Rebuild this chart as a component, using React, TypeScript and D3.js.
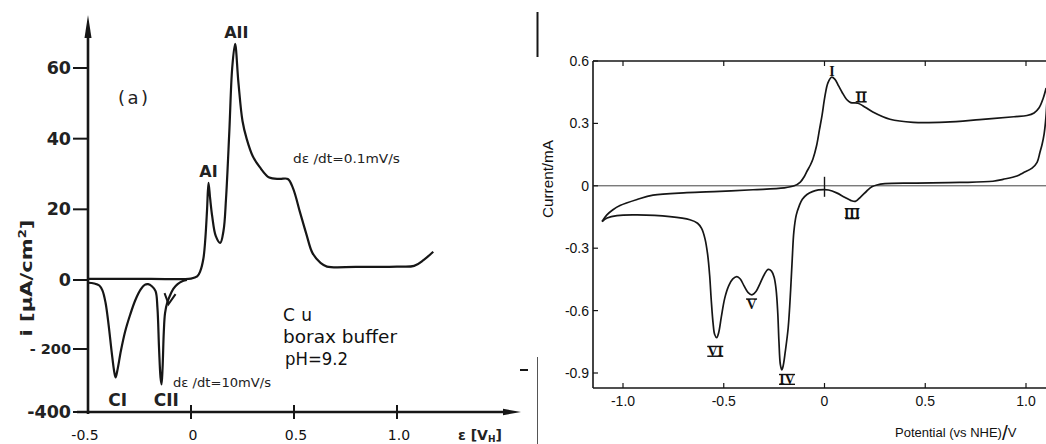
import React from "react";
import * as d3 from "d3";

// ---------- Left panel (a): Cu in borax buffer ----------
const leftYTicks = [60, 40, 20, 0, -200, -400];
const leftYTickLabels = ["60", "40", "20", "0", "- 200", "-400"];
const leftXTicks = [-0.5, 0, 0.5, 1.0];
const leftXTickLabels = ["-0.5", "0", "0.5", "1.0"];

// anodic sweep, dε/dt = 0.1 mV/s  [potential V_H, i µA/cm²]
const anodicSlow: [number, number][] = [
  [-0.5, 0.3], [-0.2, 0.3], [0, 0.4], [0.03, 1], [0.045, 2.5], [0.06, 6], [0.07, 12],
  [0.078, 20], [0.085, 27.5], [0.093, 23], [0.103, 18], [0.12, 12.5], [0.142, 10.5],
  [0.158, 14], [0.17, 23], [0.186, 42], [0.2, 60], [0.214, 66.8], [0.23, 56], [0.25, 45],
  [0.27, 40], [0.3, 35], [0.333, 32], [0.38, 29], [0.43, 28.6], [0.47, 28.6], [0.495, 26],
  [0.53, 19], [0.56, 13], [0.59, 7.6], [0.63, 4.8], [0.66, 3.8], [0.8, 3.7], [1.0, 3.8],
  [1.083, 4], [1.13, 5.7], [1.176, 8],
];

// cathodic sweep, dε/dt = 10 mV/s
const cathodicFast: [number, number][] = [
  [-0.5, -8], [-0.47, -10], [-0.445, -16], [-0.43, -30], [-0.415, -65], [-0.4, -130],
  [-0.385, -210], [-0.372, -275], [-0.366, -290], [-0.358, -270], [-0.34, -205],
  [-0.32, -150], [-0.295, -100], [-0.27, -58], [-0.245, -28], [-0.225, -14], [-0.208, -12],
  [-0.19, -18], [-0.172, -32], [-0.163, -80], [-0.155, -200], [-0.148, -290], [-0.143, -312],
  [-0.138, -260], [-0.132, -150], [-0.126, -96], [-0.115, -65], [-0.102, -45], [-0.085, -25],
  [-0.065, -12], [-0.04, -3], [-0.02, 0],
];

// ---------- Right panel: cyclic voltammogram ----------
const rightYTicks = [0.6, 0.3, 0, -0.3, -0.6, -0.9];
const rightYTickLabels = ["0.6", "0.3", "0", "-0.3", "-0.6", "-0.9"];
const rightXTicks = [-1.0, -0.5, 0, 0.5, 1.0];
const rightXTickLabels = ["-1.0", "-0.5", "0", "0.5", "1.0"];

// positive-going sweep [potential V vs NHE, current mA]
const cvUpper: [number, number][] = [
  [-1.104, -0.172], [-1.08, -0.14], [-1.05, -0.115], [-1.015, -0.095], [-0.93, -0.066],
  [-0.851, -0.045], [-0.683, -0.033], [-0.519, -0.027], [-0.355, -0.019], [-0.2, -0.01],
  [-0.15, 0.0], [-0.12, 0.018], [-0.1, 0.045], [-0.087, 0.07], [-0.07, 0.1], [-0.057, 0.13],
  [-0.04, 0.19], [-0.025, 0.27], [-0.012, 0.34], [0.002, 0.43], [0.017, 0.495], [0.035, 0.522],
  [0.052, 0.512], [0.07, 0.48], [0.087, 0.45], [0.11, 0.415], [0.13, 0.4], [0.166, 0.397],
  [0.19, 0.385], [0.24, 0.355], [0.325, 0.32], [0.44, 0.305], [0.6, 0.306], [0.77, 0.318],
  [0.94, 0.332], [1.005, 0.338], [1.04, 0.35], [1.065, 0.375], [1.085, 0.42], [1.1, 0.47],
];

// negative-going sweep
const cvLower: [number, number][] = [
  [1.106, 0.45], [1.099, 0.33], [1.09, 0.25], [1.08, 0.2], [1.069, 0.16], [1.055, 0.113],
  [1.03, 0.085], [0.985, 0.062], [0.955, 0.047], [0.886, 0.031], [0.836, 0.022], [0.672, 0.016],
  [0.44, 0.013], [0.3, 0.01], [0.26, 0.004], [0.235, -0.005], [0.21, -0.025], [0.18, -0.053],
  [0.153, -0.075], [0.13, -0.07], [0.1, -0.055], [0.06, -0.034], [0.02, -0.02], [0.0, -0.018],
  [-0.03, -0.02], [-0.06, -0.028], [-0.087, -0.042], [-0.11, -0.065], [-0.125, -0.095],
  [-0.14, -0.14], [-0.152, -0.22], [-0.16, -0.35], [-0.168, -0.5], [-0.18, -0.68],
  [-0.195, -0.8], [-0.205, -0.865], [-0.212, -0.885], [-0.219, -0.86], [-0.226, -0.75],
  [-0.232, -0.61], [-0.24, -0.5], [-0.25, -0.44], [-0.263, -0.41], [-0.28, -0.402],
  [-0.298, -0.425], [-0.32, -0.47], [-0.34, -0.508], [-0.36, -0.524], [-0.38, -0.512],
  [-0.4, -0.48], [-0.418, -0.448], [-0.435, -0.437], [-0.455, -0.448], [-0.475, -0.48],
  [-0.495, -0.54], [-0.512, -0.63], [-0.525, -0.705], [-0.535, -0.73], [-0.545, -0.715],
  [-0.553, -0.66], [-0.562, -0.55], [-0.57, -0.43], [-0.58, -0.33], [-0.593, -0.255],
  [-0.61, -0.205], [-0.63, -0.18], [-0.668, -0.163], [-0.767, -0.148], [-0.93, -0.14],
  [-1.03, -0.143], [-1.079, -0.155], [-1.104, -0.172],
];

const peakLabels = ["I", "II", "III", "IV", "V", "VI"];
const peakLabelPos: [number, number][] = [
  [0.037, 0.53], [0.182, 0.405], [0.137, -0.156], [-0.186, -0.953], [-0.362, -0.59], [-0.542, -0.818],
];

export default function App() {
  const xL = d3.scaleLinear().domain([-0.5, 1.0]).range([88, 397]);
  const yL = d3.scaleLinear().domain([-400, -200, 0, 60]).range([412, 349, 280, 68]);
  const xR = d3.scaleLinear().domain([-1, 1]).range([623, 1026]);
  const yR = d3.scaleLinear().domain([-0.9, 0.6]).range([373, 61]);

  const lineL = d3
    .line<[number, number]>()
    .x((d) => xL(d[0]))
    .y((d) => yL(d[1]))
    .curve(d3.curveCatmullRom.alpha(0.5));
  const lineR = d3
    .line<[number, number]>()
    .x((d) => xR(d[0]))
    .y((d) => yR(d[1]))
    .curve(d3.curveCatmullRom.alpha(0.5));

  const ink = "#161616";
  const sansB = "'DejaVu Sans', Verdana, sans-serif";
  const arial = "'Liberation Sans', Arial, sans-serif";
  const serif = "'Liberation Serif', 'DejaVu Serif', serif";

  const axY0 = yL(-400);
  const axX0 = xL(-0.5);
  const frameL = 593, frameR = 1046, frameT = 61, frameB = 388;

  // arrow on cathodic curve
  const ax = xL(-0.109), ay = yL(-70);

  const barWidths: Record<string, number> = { I: 0, II: 11, III: 14, IV: 16, V: 11, VI: 16 };

  return (
    <svg
      width={1046}
      height={444}
      viewBox="0 0 1046 444"
      style={{ position: "absolute", left: 0, top: 0, background: "#fff" }}
    >
      <rect x={0} y={0} width={1046} height={444} fill="#fff" />
      <defs>
        <clipPath id="rclip">
          <rect x={frameL} y={frameT - 2} width={frameR - frameL} height={frameB - frameT + 2} />
        </clipPath>
      </defs>

      {/* ================= LEFT PANEL ================= */}
      <g>
        {/* y axis with arrow */}
        <line x1={axX0} y1={axY0 + 2} x2={axX0} y2={32} stroke={ink} strokeWidth={2.6} />
        <path d={`M${axX0},15 L${axX0 - 3.5},38 L${axX0 + 3.5},38 Z`} fill={ink} />
        {/* x axis with arrow */}
        <line x1={77} y1={axY0} x2={508} y2={axY0} stroke={ink} strokeWidth={2.4} />
        <path d={`M521,${axY0} L503,${axY0 - 3.2} L503,${axY0 + 3.2} Z`} fill={ink} />

        {leftYTicks.map((t, i) => (
          <g key={"lyt" + i}>
            <line x1={axX0 - 15} y1={yL(t)} x2={axX0} y2={yL(t)} stroke={ink} strokeWidth={2} />
            <text
              x={axX0 - 17}
              y={yL(t) + (t === -200 ? 5 : 6)}
              textAnchor="end"
              fontFamily={sansB}
              fontWeight="bold"
              fontSize={t === -200 ? 14.5 : 17.5}
              fill="#222"
            >
              {leftYTickLabels[i]}
            </text>
          </g>
        ))}
        {leftXTicks.map((t, i) => (
          <g key={"lxt" + i}>
            {t !== -0.5 && (
              <line x1={xL(t)} y1={axY0 - 7} x2={xL(t)} y2={axY0 + 7} stroke={ink} strokeWidth={2} />
            )}
            <text
              x={xL(t) + (t === -0.5 ? -3 : 2)}
              y={440}
              textAnchor="middle"
              fontFamily={sansB}
              fontSize={14}
              fill="#111"
            >
              {leftXTickLabels[i]}
            </text>
          </g>
        ))}
        <text x={458} y={440} fontFamily={sansB} fontSize={14} fill="#222" fontWeight="bold">
          ε [V<tspan fontSize={9} dy={2}>H</tspan>
          <tspan dy={-2}>]</tspan>
        </text>
        <text
          transform="translate(32,278) rotate(-90)"
          textAnchor="middle"
          fontFamily={sansB}
          fontWeight="bold"
          fontSize={16}
          fill="#222"
          textLength={117}
          lengthAdjust="spacingAndGlyphs"
        >
          i  [μA/cm<tspan fontSize={10} dy={-6}>2</tspan>
          <tspan dy={6}>]</tspan>
        </text>

        {/* curves */}
        <path d={lineL(anodicSlow) || ""} fill="none" stroke={ink} strokeWidth={2.2} strokeLinejoin="round" />
        <path d={lineL(cathodicFast) || ""} fill="none" stroke={ink} strokeWidth={2.2} strokeLinejoin="round" />
        <path
          d={`M${ax - 4},${ay - 11} L${ax},${ay} L${ax + 7},${ay - 10}`}
          fill="none"
          stroke={ink}
          strokeWidth={2}
        />

        {/* annotations */}
        <text x={118} y={104} fontFamily={sansB} fontSize={18} fill="#222" textLength={30} lengthAdjust="spacing">
          (a)
        </text>
        <text x={xL(0.22)} y={38} textAnchor="middle" fontFamily={sansB} fontWeight="bold" fontSize={16} fill="#222">
          AII
        </text>
        <text x={xL(0.085)} y={177} textAnchor="middle" fontFamily={sansB} fontWeight="bold" fontSize={16} fill="#222">
          AI
        </text>
        <text x={xL(-0.356)} y={406} textAnchor="middle" fontFamily={sansB} fontWeight="bold" fontSize={17} fill="#222">
          CI
        </text>
        <text x={xL(-0.12)} y={406} textAnchor="middle" fontFamily={sansB} fontWeight="bold" fontSize={17} fill="#222">
          CII
        </text>
        <text x={173} y={387} fontFamily={sansB} fontSize={12} fill="#222" textLength={98} lengthAdjust="spacingAndGlyphs">
          dε /dt=10mV/s
        </text>
        <text x={293} y={163} fontFamily={sansB} fontSize={12} fill="#222" textLength={107} lengthAdjust="spacingAndGlyphs">
          dε /dt=0.1mV/s
        </text>
        <text x={283} y={321} fontFamily={sansB} fontSize={17} fill="#111" textLength={29} lengthAdjust="spacing">
          Cu
        </text>
        <text x={283} y={343} fontFamily={sansB} fontSize={17} fill="#111" textLength={114} lengthAdjust="spacingAndGlyphs">
          borax buffer
        </text>
        <text x={285} y={365} fontFamily={sansB} fontSize={17} fill="#111" textLength={63} lengthAdjust="spacingAndGlyphs">
          pH=9.2
        </text>
        <line x1={520} y1={370} x2={528} y2={370} stroke={ink} strokeWidth={2} />
      </g>

      {/* separator */}
      <line x1={537.5} y1={12} x2={537.5} y2={57} stroke={ink} strokeWidth={2} />
      <line x1={537.5} y1={357} x2={537.5} y2={444} stroke="#555" strokeWidth={1} />

      {/* ================= RIGHT PANEL ================= */}
      <g>
        {/* frame */}
        <line x1={frameL} y1={frameT} x2={frameR} y2={frameT} stroke={ink} strokeWidth={1.6} />
        <line x1={frameL} y1={frameT} x2={frameL} y2={frameB} stroke={ink} strokeWidth={1.6} />
        <line x1={frameL} y1={frameB} x2={frameR} y2={frameB} stroke={ink} strokeWidth={1.6} />
        {/* zero line */}
        <line x1={frameL} y1={yR(0)} x2={frameR} y2={yR(0)} stroke="#444" strokeWidth={1} />
        {/* marker at 0 V */}
        <line x1={xR(0)} y1={yR(0) - 9} x2={xR(0)} y2={yR(0) + 11} stroke={ink} strokeWidth={1.4} />

        {rightYTicks.map((t, i) => (
          <g key={"ryt" + i}>
            <line x1={frameL} y1={yR(t)} x2={frameL + 5} y2={yR(t)} stroke={ink} strokeWidth={1.2} />
            <text x={589} y={yR(t) + 5} textAnchor="end" fontFamily={arial} fontSize={14} fill="#111">
              {rightYTickLabels[i]}
            </text>
          </g>
        ))}
        {rightXTicks.map((t, i) => (
          <g key={"rxt" + i}>
            <line x1={xR(t)} y1={frameB} x2={xR(t)} y2={frameB - 5} stroke={ink} strokeWidth={1.2} />
            <line x1={xR(t)} y1={frameT} x2={xR(t)} y2={frameT + 5} stroke={ink} strokeWidth={1.2} />
            <text x={xR(t)} y={406} textAnchor="middle" fontFamily={arial} fontSize={14} fill="#111">
              {rightXTickLabels[i]}
            </text>
          </g>
        ))}
        <text
          transform="translate(553,179) rotate(-90)"
          textAnchor="middle"
          fontFamily={arial}
          fontSize={14}
          fill="#111"
          textLength={78}
          lengthAdjust="spacingAndGlyphs"
        >
          Current/mA
        </text>
        <text x={895} y={437} fontFamily={arial} fontSize={13} fill="#111">
          Potential (vs NHE)
          <tspan fontSize={21} dy={3} fontWeight="300">/</tspan>
          <tspan dy={-3}>V</tspan>
        </text>

        <g clipPath="url(#rclip)">
          <path d={lineR(cvUpper) || ""} fill="none" stroke={ink} strokeWidth={1.7} strokeLinejoin="round" />
          <path d={lineR(cvLower) || ""} fill="none" stroke={ink} strokeWidth={1.7} strokeLinejoin="round" />
        </g>

        {peakLabels.map((lab, i) => {
          const cx = xR(peakLabelPos[i][0]);
          const by = yR(peakLabelPos[i][1]);
          const w = barWidths[lab];
          return (
            <g key={"pl" + i}>
              <text x={cx} y={by} textAnchor="middle" fontFamily={serif} fontWeight="bold" fontSize={14} fill="#111">
                {lab}
              </text>
              {w > 0 && (
                <line x1={cx - w / 2} y1={by - 9.5} x2={cx + w / 2} y2={by - 9.5} stroke="#111" strokeWidth={1.4} />
              )}
              {w > 0 && lab !== "V" && (
                <line x1={cx - w / 2} y1={by + 0.3} x2={cx + w / 2} y2={by + 0.3} stroke="#111" strokeWidth={1.4} />
              )}
            </g>
          );
        })}
      </g>
    </svg>
  );
}
